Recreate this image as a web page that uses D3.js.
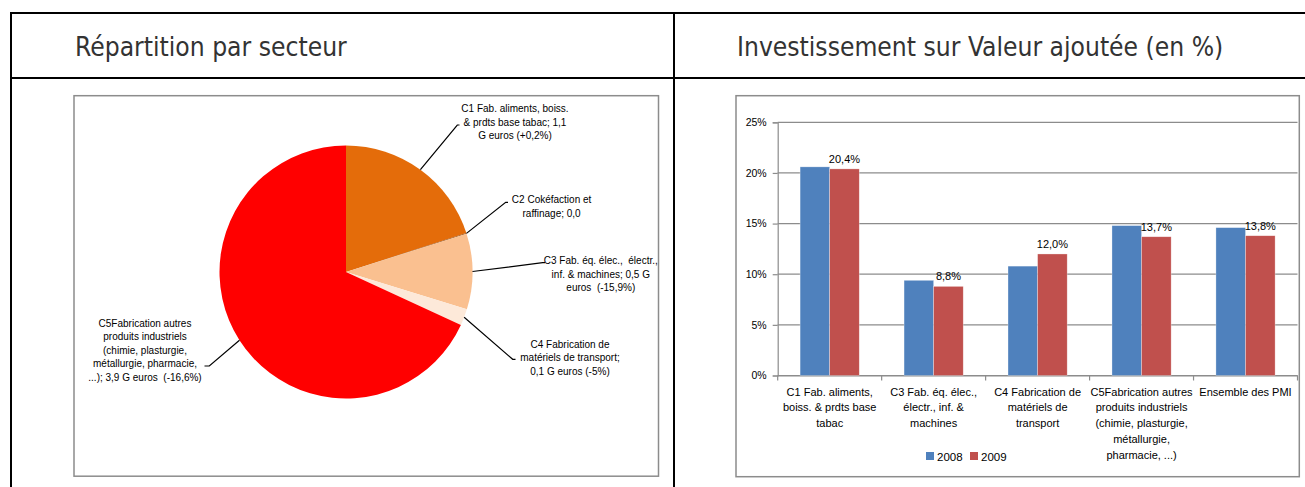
<!DOCTYPE html>
<html><head><meta charset="utf-8">
<script src="https://cdn.jsdelivr.net/npm/d3@7"></script>
<style>
html,body{margin:0;padding:0;background:#fff;}
svg{display:block;}
text{white-space:pre;}
</style></head>
<body>
<svg id="c" width="1305" height="487"></svg>
<script>
// ---------- DATA ----------
const panelTitles = ["Répartition par secteur", "Investissement sur Valeur ajoutée (en %)"];

// Pie: investment by sector (G euros)
const pieSectors = ["C1", "C2", "C3", "C4", "C5"];
const pieValues = [1.14, 0.005, 0.55, 0.12, 3.88];
const pieColors = ["#E46C0A", "#984807", "#FAC090", "#FDE9D9", "#FF0000"];
const pieLabels = [
  ["C1 Fab. aliments, boiss.", "& prdts base tabac; 1,1", "G euros (+0,2%)"],
  ["C2 Cokéfaction et", "raffinage; 0,0"],
  ["C3 Fab. éq. élec.,  électr.,", "inf. & machines; 0,5 G", "euros  (-15,9%)"],
  ["C4 Fabrication de", "matériels de transport;", "0,1 G euros (-5%)"],
  ["C5Fabrication autres", "produits industriels", "(chimie, plasturgie,", "métallurgie, pharmacie,", "...); 3,9 G euros  (-16,6%)"]
];

// Bars: investment / value added (%)
const barCategories = ["C1", "C3", "C4", "C5", "PMI"];
const barCategoryLines = [
  ["C1 Fab. aliments,", "boiss. & prdts base", "tabac"],
  ["C3 Fab. éq. élec.,", "électr., inf. &", "machines"],
  ["C4 Fabrication de", "matériels de", "transport"],
  ["C5Fabrication autres", "produits industriels", "(chimie, plasturgie,", "métallurgie,", "pharmacie, ...)"],
  ["Ensemble des PMI"]
];
const seriesNames = ["2008", "2009"];
const values2008 = [20.6, 9.4, 10.8, 14.8, 14.6];
const values2009 = [20.4, 8.8, 12.0, 13.7, 13.8];
const barColors = ["#4F81BD", "#C0504D"];
const yTicks = [0, 5, 10, 15, 20, 25];

// ---------- LAYOUT ----------
const svg = d3.select("#c");
const fmtPct = v => d3.format(".1f")(v).replace(".", ",") + "%";

// table frame
const frame = svg.append("g").attr("stroke", "#000").attr("stroke-width", 2);
frame.append("line").attr("x1", 10).attr("x2", 1305).attr("y1", 13).attr("y2", 13);
frame.append("line").attr("x1", 10).attr("x2", 1305).attr("y1", 78).attr("y2", 78);
frame.append("line").attr("x1", 11).attr("x2", 11).attr("y1", 12).attr("y2", 487);
frame.append("line").attr("x1", 674).attr("x2", 674).attr("y1", 12).attr("y2", 487);

const titleX = [75, 737];
svg.selectAll("text.ptitle").data(panelTitles).join("text")
  .attr("class", "ptitle")
  .attr("x", (d, i) => titleX[i]).attr("y", 56)
  .attr("font-family", "'DejaVu Sans Condensed','DejaVu Sans',sans-serif")
  .attr("font-stretch", "condensed")
  .attr("font-size", 26.2).attr("fill", "#333")
  .text(d => d);

// chart boxes
svg.append("rect").attr("x", 74).attr("y", 95.7).attr("width", 584.5).attr("height", 380.5)
  .attr("fill", "#fff").attr("stroke", "#8c8c8c").attr("stroke-width", 1.5);
svg.append("rect").attr("x", 736).attr("y", 95.7).attr("width", 563.3).attr("height", 381)
  .attr("fill", "#fff").attr("stroke", "#8c8c8c").attr("stroke-width", 1.5);

// ---------- PIE ----------
const cx = 346, cy = 272, R = 126.5;
const pie = d3.pie().sort(null).value(d => d);
const arcs = pie(pieValues);
const arc = d3.arc().innerRadius(0).outerRadius(R);
const gp = svg.append("g").attr("transform", `translate(${cx},${cy})`);
gp.selectAll("path").data(arcs).join("path")
  .attr("d", arc).attr("fill", (d, i) => pieColors[i]);

// label layout: elbow (x,y), elbow end x, text centre x, first line centre y
const pieLabelPos = [
  {ex: 457.3, ey: 125, ex2: 459.5, tx: 515, ty: 108.5},
  {ex: 505.7, ey: 202.3, ex2: 508, tx: 551.6, ty: 199.5},
  {ex: 542.7, ey: 262.7, ex2: 545, tx: 600.8, ty: 260.5},
  {ex: 512.7, ey: 359.3, ex2: 515.5, tx: 570, ty: 344.3},
  {ex: 209.3, ey: 366, ex2: 204.5, tx: 145, ty: 323.3}
];
const lineH = 13.4;
arcs.forEach((a, i) => {
  const mid = (a.startAngle + a.endAngle) / 2;
  const sx = cx + R * Math.sin(mid), sy = cy - R * Math.cos(mid);
  const p = pieLabelPos[i];
  svg.append("polyline")
    .attr("points", `${sx},${sy} ${p.ex},${p.ey} ${p.ex2},${p.ey}`)
    .attr("fill", "none").attr("stroke", "#000").attr("stroke-width", 1.2);
  const t = svg.append("text")
    .attr("font-family", "'Liberation Sans',Arial,sans-serif")
    .attr("font-size", 10).attr("fill", "#000").attr("text-anchor", "middle");
  pieLabels[i].forEach((ln, k) => {
    t.append("tspan").attr("x", p.tx).attr("y", p.ty + k * lineH + 3.6).text(ln);
  });
});

// ---------- BARS ----------
const px0 = 777.7, px1 = 1297.5, py0 = 375.5, py1 = 122.3;
const x0 = d3.scaleBand().domain(barCategories).range([px0, px1]).padding(0);
const x1 = d3.scaleBand().domain(seriesNames).range([0, x0.bandwidth()]).paddingInner(0).paddingOuter(0.757);
const y = d3.scaleLinear().domain([0, 25]).range([py0, py1]);

const gb = svg.append("g");
// gridlines
gb.selectAll("line.grid").data(yTicks).join("line")
  .attr("x1", px0).attr("x2", px1).attr("y1", d => y(d)).attr("y2", d => y(d))
  .attr("stroke", "#8c8c8c").attr("stroke-width", 1.2);
// y axis
const yAxis = d3.axisLeft(y).tickValues(yTicks).tickSize(5).tickFormat(d => d + "%");
const ya = gb.append("g").attr("transform", `translate(${px0},0)`).call(yAxis);
ya.select(".domain").attr("stroke", "#8c8c8c").attr("stroke-width", 1.2);
ya.selectAll(".tick line").attr("stroke", "#8c8c8c").attr("stroke-width", 1.2);
ya.selectAll(".tick text").attr("x", -11).attr("font-family", "'Liberation Sans',Arial,sans-serif")
  .attr("font-size", 10.5).attr("fill", "#000");

// x axis ticks (category separators)
const xAxis = d3.axisBottom(x0).tickSize(0).tickFormat("");
const xa = gb.append("g").attr("transform", `translate(0,${py0})`).call(xAxis);
xa.select(".domain").attr("stroke", "#8c8c8c").attr("stroke-width", 1.2);
const sepPos = barCategories.map(c => x0(c)).concat([px1]);
gb.selectAll("line.sep").data(sepPos).join("line")
  .attr("x1", d => d).attr("x2", d => d).attr("y1", py0).attr("y2", py0 + 5)
  .attr("stroke", "#8c8c8c").attr("stroke-width", 1.2);

const seriesData = [values2008, values2009];
seriesNames.forEach((s, si) => {
  gb.selectAll("rect.s" + si).data(seriesData[si]).join("rect")
    .attr("x", (d, i) => x0(barCategories[i]) + x1(s))
    .attr("y", d => y(d))
    .attr("width", x1.bandwidth())
    .attr("height", d => y(0) - y(d))
    .attr("fill", barColors[si]).attr("stroke", "rgba(255,255,255,0.5)").attr("stroke-width", 0.6);
});
// data labels (2009)
gb.selectAll("text.dl").data(values2009).join("text")
  .attr("x", (d, i) => x0(barCategories[i]) + x1("2009") + x1.bandwidth() / 2)
  .attr("y", d => y(d) - 6)
  .attr("text-anchor", "middle")
  .attr("font-family", "'Liberation Sans',Arial,sans-serif")
  .attr("font-size", 11).attr("fill", "#000")
  .text(d => fmtPct(d));

// category labels
barCategoryLines.forEach((lines, i) => {
  const t = gb.append("text").attr("text-anchor", "middle")
    .attr("font-family", "'Liberation Sans',Arial,sans-serif")
    .attr("font-size", 11).attr("fill", "#000");
  lines.forEach((ln, k) => {
    t.append("tspan").attr("x", x0(barCategories[i]) + x0.bandwidth() / 2)
      .attr("y", 395.5 + k * 15.9).text(ln);
  });
});

// legend
const legX = [926, 970];
const lg = gb.append("g");
seriesNames.forEach((s, i) => {
  lg.append("rect").attr("x", legX[i]).attr("y", 452).attr("width", 8).attr("height", 8).attr("fill", barColors[i]);
  lg.append("text").attr("x", legX[i] + 11).attr("y", 460.5)
    .attr("font-family", "'Liberation Sans',Arial,sans-serif")
    .attr("font-size", 11.5).attr("fill", "#000").text(s);
});
</script>
</body></html>
